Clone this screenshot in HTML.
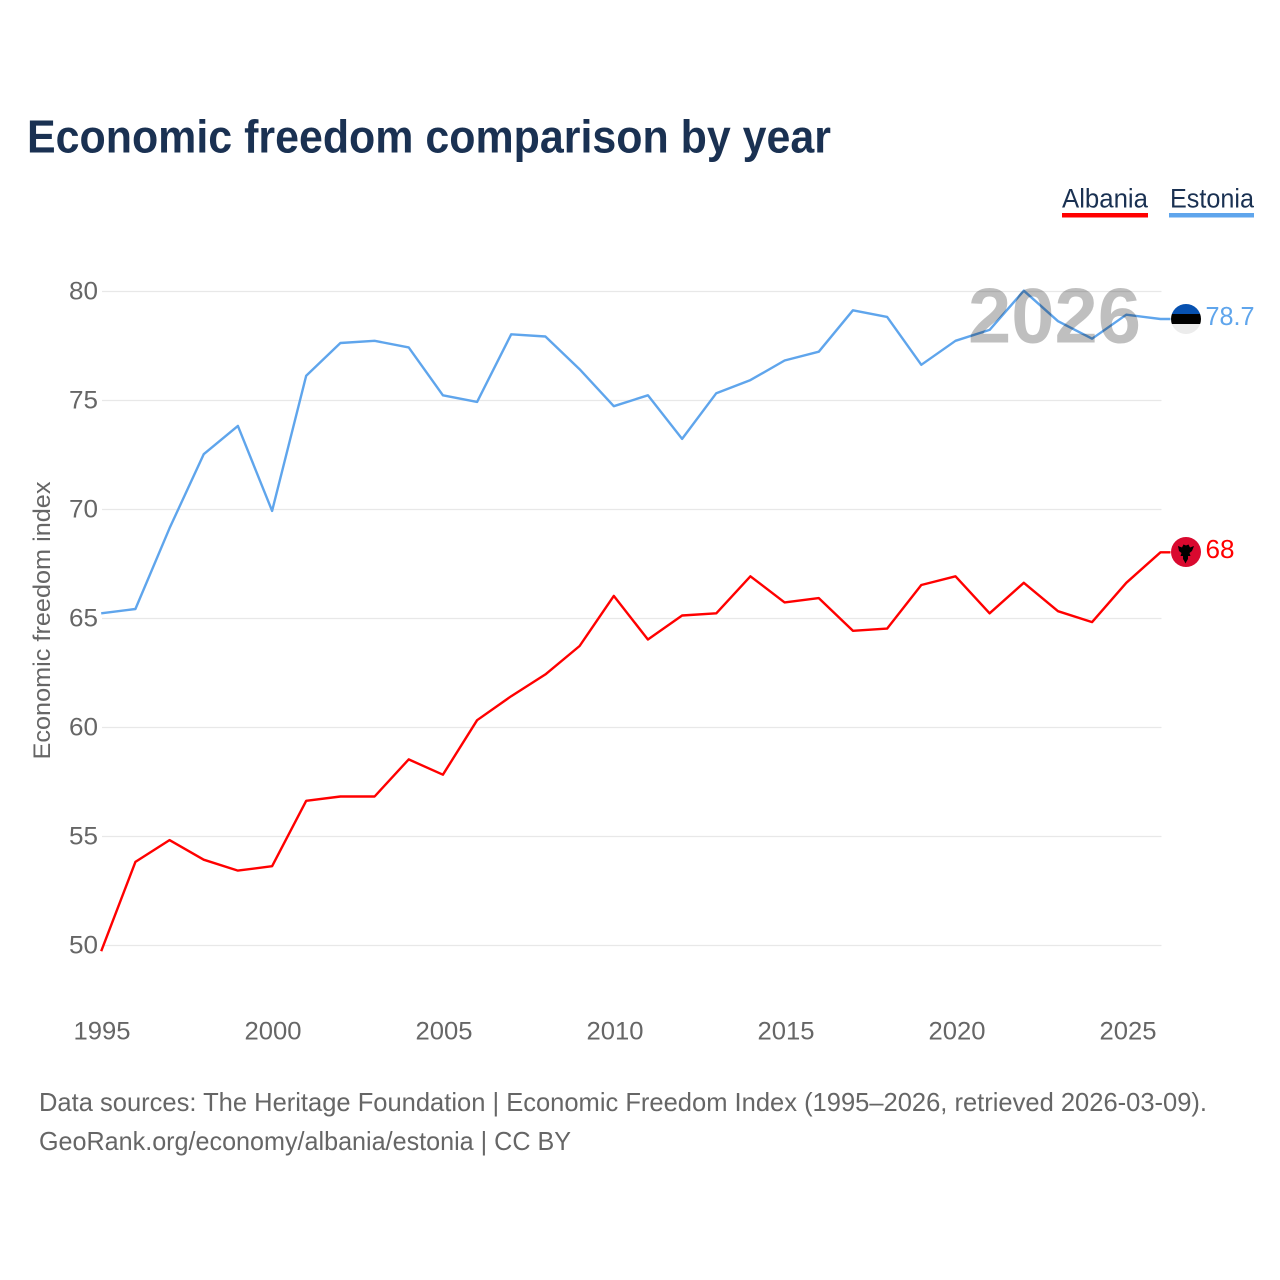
<!DOCTYPE html>
<html lang="en">
<head>
<meta charset="utf-8">
<title>Economic freedom comparison by year</title>
<style>
html,body{margin:0;padding:0;background:#fff;width:1280px;height:1280px;overflow:hidden}
svg{display:block}
text{font-family:"Liberation Sans",sans-serif}
</style>
</head>
<body>
<svg id="chart" xmlns="http://www.w3.org/2000/svg" width="1280" height="1280" viewBox="0 0 1280 1280">
  <rect width="1280" height="1280" fill="#fff"/>
  <text x="27" y="152.5" font-size="46" font-weight="700" fill="#1a3152" textLength="804" lengthAdjust="spacingAndGlyphs">Economic freedom comparison by year</text>

  <g id="grid"></g>
  <g id="yticks"></g>
  <g id="xticks"></g>
  <text transform="translate(50,759.5) rotate(-90)" font-size="24" fill="#666" textLength="278" lengthAdjust="spacingAndGlyphs">Economic freedom index</text>
  <g id="series"></g>

  <text x="968" y="342.5" font-size="78" font-weight="700" fill="#000" fill-opacity="0.25" textLength="173" lengthAdjust="spacingAndGlyphs">2026</text>

  <g>
    <text x="1062" y="207.5" font-size="27" fill="#1a3152" textLength="86" lengthAdjust="spacingAndGlyphs">Albania</text>
    <rect x="1062" y="213" width="86" height="4.5" fill="#ff0000"/>
  </g>
  <g>
    <text x="1170" y="207.5" font-size="27" fill="#1a3152" textLength="84" lengthAdjust="spacingAndGlyphs">Estonia</text>
    <rect x="1169" y="213" width="85" height="4.5" fill="#5fa5ec"/>
  </g>

  <defs>
    <clipPath id="flag-clip-ee"><circle cx="1186" cy="319" r="15"/></clipPath>
  </defs>
  <g id="flag-estonia">
    <g clip-path="url(#flag-clip-ee)">
      <rect x="1171" y="304" width="30" height="10" fill="#0751b0"/>
      <rect x="1171" y="314" width="30" height="10" fill="#000"/>
      <rect x="1171" y="324" width="30" height="10" fill="#ececec"/>
    </g>
  </g>
  <g id="flag-albania">
    <circle cx="1186" cy="552" r="15" fill="#d9092f"/>
    <path d="M1178 546l4 1.500 1.500-3 2.500 1 2.500-1 1.500 3 4-1.500-2 5-2.500 2 1 3-2.500 0 0 3-1.500 2.500-1 2-1-2-1.500-2.500 0-3-2.500 0 1-3-2.500-2z" fill="#000"/>
  </g>
  <text id="value-estonia" x="1205.500" y="325" font-size="26" fill="#5fa5ec" textLength="49" lengthAdjust="spacingAndGlyphs">78.7</text>
  <text id="value-albania" x="1205.500" y="558" font-size="26" fill="#ff0000" textLength="29" lengthAdjust="spacingAndGlyphs">68</text>

  <text x="39" y="1111" font-size="26" fill="#666" textLength="1168" lengthAdjust="spacingAndGlyphs">Data sources: The Heritage Foundation | Economic Freedom Index (1995–2026, retrieved 2026-03-09).</text>
  <text x="39" y="1150" font-size="26" fill="#666" textLength="532" lengthAdjust="spacingAndGlyphs">GeoRank.org/economy/albania/estonia | CC BY</text>
</svg>
<script>
const years = [1995,1996,1997,1998,1999,2000,2001,2002,2003,2004,2005,2006,2007,2008,2009,2010,2011,2012,2013,2014,2015,2016,2017,2018,2019,2020,2021,2022,2023,2024,2025,2026];
const albania = [49.7,53.8,54.8,53.9,53.4,53.6,56.6,56.8,56.8,58.5,57.8,60.3,61.4,62.4,63.7,66.0,64.0,65.1,65.2,66.9,65.7,65.9,64.4,64.5,66.5,66.9,65.2,66.6,65.3,64.8,66.6,68.0];
const estonia = [65.2,65.4,69.1,72.5,73.8,69.9,76.1,77.6,77.7,77.4,75.2,74.9,78.0,77.9,76.4,74.7,75.2,73.2,75.3,75.9,76.8,77.2,79.1,78.8,76.6,77.7,78.2,80.0,78.6,77.8,78.9,78.7];
const yTicks = [50,55,60,65,70,75,80];
const xTicks = [1995,2000,2005,2010,2015,2020,2025];

const NS = 'http://www.w3.org/2000/svg';
function x(year){ return 101.2 + (year - 1995) * 34.17; }
function y(value){ return 945.5 - (value - 50) * 21.8; }
function markY(value){ return y(value) - 0.8; }

const grid = document.getElementById('grid');
const yGroup = document.getElementById('yticks');
const xGroup = document.getElementById('xticks');
const seriesGroup = document.getElementById('series');

yTicks.forEach(function(t){
  const line = document.createElementNS(NS,'line');
  
  
  line.setAttribute('x1', 102);
  line.setAttribute('x2', 1161.5);
  line.setAttribute('y1', y(t));
  line.setAttribute('y2', y(t));
  line.setAttribute('stroke', '#e8e8e8');
  line.setAttribute('stroke-width', '1.2');
  grid.appendChild(line);

  const label = document.createElementNS(NS,'text');
  
  
  label.setAttribute('x', 98);
  label.setAttribute('y', y(t) + 7.8);
  label.setAttribute('text-anchor', 'end');
  label.setAttribute('font-size', '25');
  label.setAttribute('fill', '#666');
  label.setAttribute('textLength', '29');
  label.setAttribute('lengthAdjust', 'spacingAndGlyphs');
  label.textContent = t;
  yGroup.appendChild(label);
});

xTicks.forEach(function(t){
  const label = document.createElementNS(NS,'text');
  
  
  label.setAttribute('x', 102 + (t - 1995) * 34.2);
  label.setAttribute('y', 1039.5);
  label.setAttribute('text-anchor', 'middle');
  label.setAttribute('font-size', '25');
  label.setAttribute('fill', '#666');
  label.setAttribute('textLength', '57');
  label.setAttribute('lengthAdjust', 'spacingAndGlyphs');
  label.textContent = t;
  xGroup.appendChild(label);
});

function drawSeries(values, color){
  let d = '';
  values.forEach(function(v,i){
    d += (i ? 'L' : 'M') + x(years[i]).toFixed(1) + ' ' + markY(v).toFixed(1);
  });
  d += 'L' + (x(years[years.length-1]) + 10).toFixed(1) + ' ' + markY(values[values.length-1]).toFixed(1);
  const path = document.createElementNS(NS,'path');
  
  
  path.setAttribute('d', d);
  path.setAttribute('fill', 'none');
  path.setAttribute('stroke', color);
  path.setAttribute('stroke-width', '2.4');
  path.setAttribute('stroke-linejoin', 'round');
  seriesGroup.appendChild(path);
}
drawSeries(estonia, '#5fa5ec');
drawSeries(albania, '#ff0000');

const estoniaAnchorValue = 78.7;
const albaniaAnchorValue = 68;
function placeEnd(flagId, labelId, values, anchorValue){
  const last = values[values.length-1];
  const shift = (y(last) - y(anchorValue)).toFixed(1);
  document.getElementById(flagId).setAttribute('transform', 'translate(0,' + shift + ')');
  const label = document.getElementById(labelId);
  label.setAttribute('transform', 'translate(0,' + shift + ')');
  label.textContent = last;
}
placeEnd('flag-estonia', 'value-estonia', estonia, estoniaAnchorValue);
placeEnd('flag-albania', 'value-albania', albania, albaniaAnchorValue);
</script>
</body>
</html>
